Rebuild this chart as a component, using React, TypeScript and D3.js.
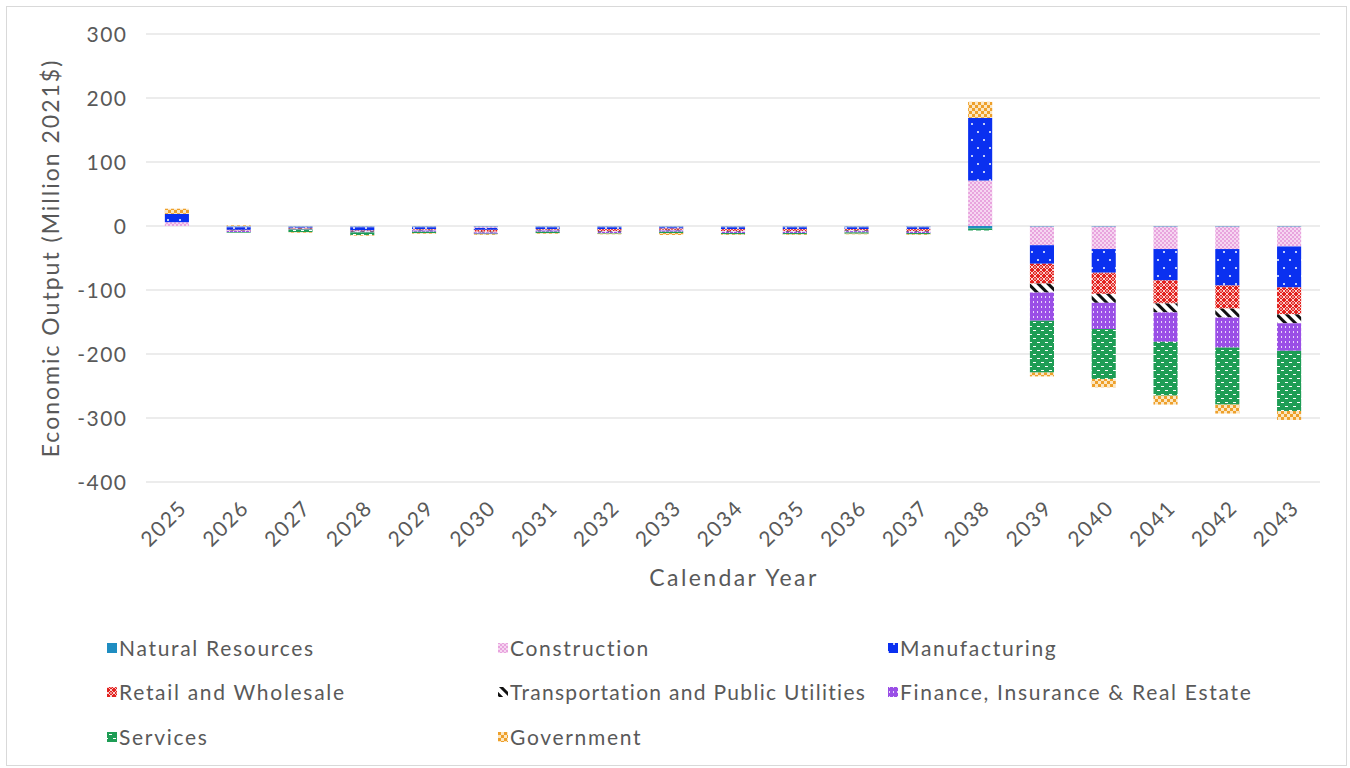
import React from "react";
import * as d3 from "d3";

const years = ["2025","2026","2027","2028","2029","2030","2031","2032","2033","2034","2035","2036","2037","2038","2039","2040","2041","2042","2043"];
const naturalResources = [0, -1, -1, -1, -1, -1, -1, -1, -1, -1, -1, -1, -1, -4, -1, -1, -1, -1, -1];
const construction = [6, -1, -1, -1, -1, -2, -1, -1, -1, -1, -1, -1, -1, 71, -29, -35, -35, -35, -31];
const manufacturing = [13, -4, -1, -5, -3, -3, -3, -3, -2, -3, -3, -3, -3, 98, -29, -37, -49, -57, -64];
const retail = [0, -1, -1, -1, -1, -3, -1, -3, -2, -3, -3, -2, -3, 0, -31, -33, -36, -36, -42];
const transport = [0, -0.5, -0.5, -1, -1, -1, -1, -1, -1, -1, -1, -1, -1, 0, -14, -14, -14, -14, -14];
const finance = [0, -2, -1, -1, -2, -2, -2, -2, -2, -2, -2, -2, -2, 0, -44, -41, -46, -47, -43];
const services = [0, -1, -4, -4, -2, -1, -2, -1, -2, -2, -2, -2, -2, -3, -81, -78, -84, -89, -94];
const government = [8, 1, -1, -1, -1, -1, -1, -1, -3, -1, -1, -1, -1, 25, -6, -13, -14, -14, -14];
const yTicks = [300, 200, 100, 0, -100, -200, -300, -400];

const seriesNames = ["Natural Resources","Construction","Manufacturing","Retail and Wholesale","Transportation and Public Utilities","Finance, Insurance & Real Estate","Services","Government"];
const seriesValues = [naturalResources, construction, manufacturing, retail, transport, finance, services, government];
const fills = ["#1f8dc1","url(#p-con)","url(#p-man)","url(#p-ret)","url(#p-tra)","url(#p-fin)","url(#p-ser)","url(#p-gov)"];

const W = 1350, H = 768;
const left = 146, right = 1320, top = 34, bottom = 482;
const textColor = "#595959";
const font = "Lato, 'Open Sans', sans-serif";

export default function App() {
  const x = d3.scaleBand().domain(years).range([left, right]).paddingInner(0.61).paddingOuter(0.305);
  const y = d3.scaleLinear().domain([-400, 300]).range([bottom, top]);
  const rows = years.map((yr, i) => {
    const r: any = { year: yr };
    seriesNames.forEach((n, k) => (r[n] = seriesValues[k][i]));
    return r;
  });
  const stacked = d3.stack().keys(seriesNames).offset(d3.stackOffsetDiverging)(rows);

  const legendCols = [107, 498, 888];
  const legendRows = [648, 692, 737];

  return (
    <div style={{ position: "absolute", left: 0, top: 0 }}>
      <svg width={W} height={H} style={{ display: "block", fontFamily: font, fontWeight: 400 }}>
        <defs>
          <pattern id="p-con" width="4" height="4" patternUnits="userSpaceOnUse">
            <rect width="4" height="4" fill="#f6d6f1" />
            <rect width="2" height="2" fill="#e8a4de" />
            <rect x="2" y="2" width="2" height="2" fill="#e8a4de" />
          </pattern>
          <pattern id="p-man" width="12" height="16" patternUnits="userSpaceOnUse">
            <rect width="12" height="16" fill="#0a30f0" />
            <circle cx="6" cy="4" r="1" fill="#ffffff" />
            <circle cx="0" cy="12" r="1" fill="#ffffff" />
            <circle cx="12" cy="12" r="1" fill="#ffffff" />
          </pattern>
          <pattern id="p-ret" width="6" height="6" patternUnits="userSpaceOnUse">
            <rect width="6" height="6" fill="#e3221f" />
            <path d="M0,3 L3,0 L6,3 L3,6 Z" fill="none" stroke="#ffffff" strokeWidth="0.8" />
            <circle cx="3" cy="3" r="0.8" fill="#ffffff" />
          </pattern>
          <pattern id="p-tra" width="7" height="7" patternUnits="userSpaceOnUse" patternTransform="rotate(-45)">
            <rect width="7" height="7" fill="#ffffff" />
            <rect width="3" height="7" fill="#111111" />
          </pattern>
          <pattern id="p-fin" width="4" height="5" patternUnits="userSpaceOnUse">
            <rect width="4" height="5" fill="#9a4fe6" />
            <rect x="1" y="1" width="1" height="2" fill="#e8d6fa" />
          </pattern>
          <pattern id="p-ser" width="8" height="8" patternUnits="userSpaceOnUse">
            <rect width="8" height="8" fill="#1e9d55" />
            <rect x="1" y="2" width="3" height="1" fill="#ffffff" />
            <rect x="5" y="6" width="3" height="1" fill="#ffffff" />
          </pattern>
          <pattern id="p-gov" width="6" height="6" patternUnits="userSpaceOnUse">
            <rect width="6" height="6" fill="#fbe6c2" />
            <rect width="3" height="3" fill="#eea02b" />
            <rect x="3" y="3" width="3" height="3" fill="#eea02b" />
          </pattern>
        </defs>
        <rect x={6.5} y={6.5} width={1340} height={759} fill="#ffffff" stroke="#d9d9d9" strokeWidth={1} />

        {yTicks.map((t) => (
          <g key={t}>
            <line x1={left} x2={right} y1={y(t)} y2={y(t)} stroke="#d9d9d9" strokeWidth={1} />
            <text x={127.5} y={y(t)} dy="0.36em" textAnchor="end" fontSize={21} fill={textColor} letterSpacing={1.5}>
              {t}
            </text>
          </g>
        ))}

        {stacked.map((s, k) => (
          <g key={s.key} fill={fills[k]}>
            {s.map((d: any, i: number) => {
              const y0 = y(d[0]), y1 = y(d[1]);
              const h = Math.abs(y1 - y0);
              if (h < 0.01) return null;
              return <rect key={i} x={x(years[i])} width={x.bandwidth()} y={Math.min(y0, y1)} height={h} />;
            })}
          </g>
        ))}

        {years.map((yr) => {
          const cx = (x(yr) as number) + x.bandwidth() / 2 + 1;
          return (
            <text key={yr} transform={`translate(${cx},${499}) rotate(-45)`} textAnchor="end" dy="0.7em" fontSize={21} fill={textColor} letterSpacing={1.5}>
              {yr}
            </text>
          );
        })}

        <text x={734} y={586} textAnchor="middle" fontSize={23} fill={textColor} letterSpacing={2.4}>Calendar Year</text>
        <text transform={`translate(59,258) rotate(-90)`} textAnchor="middle" fontSize={23} fill={textColor} letterSpacing={2}>
          Economic Output (Million 2021$)
        </text>

        {seriesNames.map((n, k) => {
          const cx = legendCols[k % 3];
          const cy = legendRows[Math.floor(k / 3)];
          return (
            <g key={n}>
              <rect x={cx} y={cy - 5} width={10} height={10} fill={fills[k]} />
              <text x={cx + 12} y={cy} dy="0.36em" fontSize={21} fill={textColor} letterSpacing={k === 4 ? 1.3 : 1.7}>{n}</text>
            </g>
          );
        })}
      </svg>
    </div>
  );
}
